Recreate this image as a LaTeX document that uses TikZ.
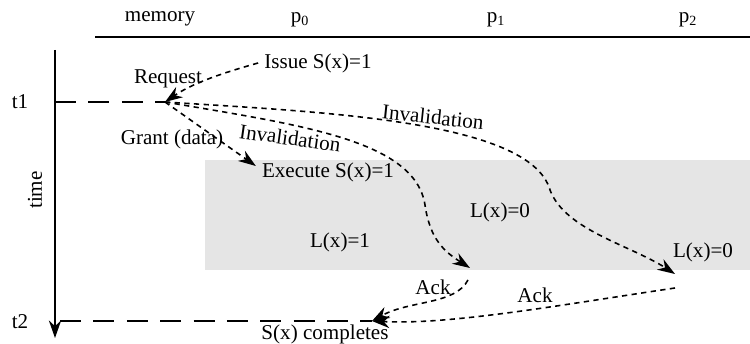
\documentclass[tikz,border=0pt]{standalone}
\usepackage{fontspec}
\setmainfont{Liberation Serif}
\usetikzlibrary{arrows.meta}
\begin{document}
\begin{tikzpicture}[x=0.02cm, y=-0.02cm, every node/.style={align=center, font=\fontsize{12}{14}\selectfont}]
        \tikzstyle{msg}=[dash pattern=on 3pt off 2.5pt, line width=0.9pt, -{Stealth[length=10pt, width=7pt]}];
        \tikzstyle{sync}=[dash pattern=on 12pt off 7pt, thick];
        \tikzstyle{lbl}=[inner sep=1pt];
        \useasboundingbox (0,0) rectangle (750,344);
        % shaded window
        \fill[gray!20] (205,160) rectangle (750,270);
        % header
        \node (memory) at (160,19) {memory};
        \node (p0) at (300,20) {p\textsubscript{0}};
        \node (p1) at (496,20) {p\textsubscript{1}};
        \node (p2) at (688,20) {p\textsubscript{2}};
        \draw[thick] (95,37) -- (750,37);
        % time axis
        \coordinate (top) at (55,50);
        \coordinate (bottom) at (55,338);
        \draw[thick, -{Stealth[length=10pt, width=7pt]}] (top) -- (bottom);
        \node[rotate=90] (time) at (35,190) {time};
        \node (t1) at (20,102) {t1};
        \node (t2) at (20,322) {t2};
        \coordinate (req) at (165,102);
        \coordinate (done) at (372,321);
        \draw[sync] (55,102) -- (req);
        \draw[sync] (60,321) -- (done);
        % events
        \node (issue) at (318,63) {Issue S(x)=1};
        \node (exec) at (328,172) {Execute S(x)=1};
        \node (l1) at (340,242) {L(x)=1};
        \node (l0a) at (500,212) {L(x)=0};
        \node (l0b) at (703,252) {L(x)=0};
        \node (complete) at (325,334) {S(x) completes};
        \coordinate (inv1) at (470,268);
        \coordinate (inv2) at (675,274);
        % messages
        \draw[msg] (issue.west) .. controls (215,75) and (190,85) .. (req);
        \node[lbl] (request) at (168,79) {Request};
        \draw[msg] (req) -- (exec.west |- 0,166) coordinate (grant);
        \node[lbl] (grantlbl) at (172,139) {Grant (data)};
        \draw[msg] (req) .. controls (300,125) and (415,140) .. (425,205)
                         .. controls (430,240) and (445,252) .. (inv1);
        \node[lbl, rotate=-8] (invlbl1) at (290,138) {Invalidation};
        \draw[msg] (req) .. controls (320,112) and (530,120) .. (550,190)
                         .. controls (565,230) and (630,245) .. (inv2);
        \node[lbl, rotate=-6] (invlbl2) at (433,117) {Invalidation};
        \draw[msg] (468,280) .. controls (455,305) and (410,300) .. (done);
        \node[lbl] (ack1) at (433,287) {Ack};
        \draw[msg] (675,288) .. controls (560,305) and (450,325) .. (done);
        \node[lbl] (ack2) at (535,295) {Ack};
    \end{tikzpicture}
\end{document}
